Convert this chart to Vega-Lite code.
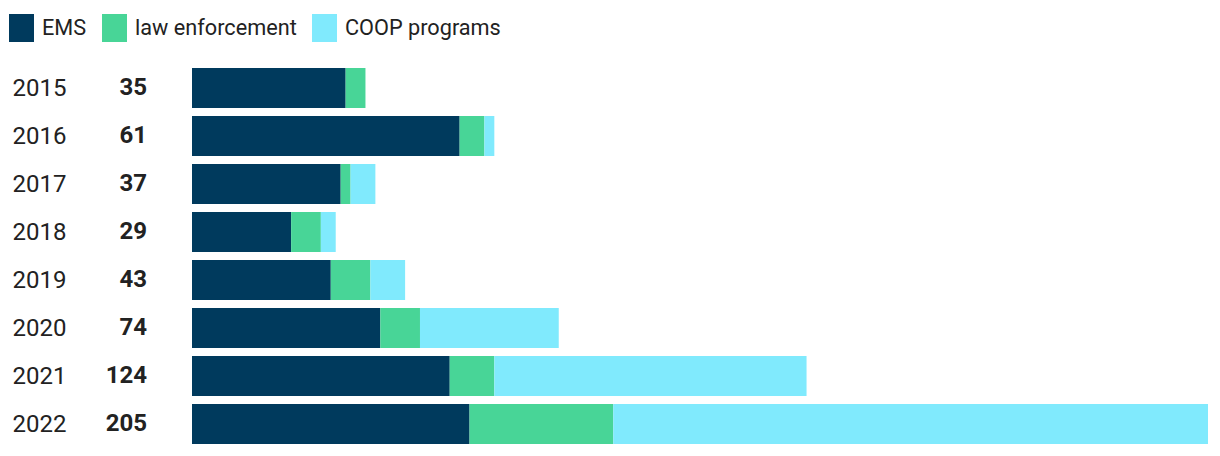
{
  "$schema": "https://vega.github.io/schema/vega-lite/v6.json",
  "autosize": {"type": "pad"},
  "bounds": "flush",
  "padding": {"left": 9, "top": 14, "right": 12, "bottom": 8},
  "spacing": 8,
  "background": "white",
  "config": {
    "view": {"stroke": null},
    "font": "Roboto",
    "text": {"font": "Roboto"}
  },
  "datasets": {
    "rows": [
      {"year": "2015", "category": "EMS", "rank": 1, "value": 31},
      {"year": "2015", "category": "law enforcement", "rank": 2, "value": 4},
      {"year": "2016", "category": "EMS", "rank": 1, "value": 54},
      {"year": "2016", "category": "law enforcement", "rank": 2, "value": 5},
      {"year": "2016", "category": "COOP programs", "rank": 3, "value": 2},
      {"year": "2017", "category": "EMS", "rank": 1, "value": 30},
      {"year": "2017", "category": "law enforcement", "rank": 2, "value": 2},
      {"year": "2017", "category": "COOP programs", "rank": 3, "value": 5},
      {"year": "2018", "category": "EMS", "rank": 1, "value": 20},
      {"year": "2018", "category": "law enforcement", "rank": 2, "value": 6},
      {"year": "2018", "category": "COOP programs", "rank": 3, "value": 3},
      {"year": "2019", "category": "EMS", "rank": 1, "value": 28},
      {"year": "2019", "category": "law enforcement", "rank": 2, "value": 8},
      {"year": "2019", "category": "COOP programs", "rank": 3, "value": 7},
      {"year": "2020", "category": "EMS", "rank": 1, "value": 38},
      {"year": "2020", "category": "law enforcement", "rank": 2, "value": 8},
      {"year": "2020", "category": "COOP programs", "rank": 3, "value": 28},
      {"year": "2021", "category": "EMS", "rank": 1, "value": 52},
      {"year": "2021", "category": "law enforcement", "rank": 2, "value": 9},
      {"year": "2021", "category": "COOP programs", "rank": 3, "value": 63},
      {"year": "2022", "category": "EMS", "rank": 1, "value": 56},
      {"year": "2022", "category": "law enforcement", "rank": 2, "value": 29},
      {"year": "2022", "category": "COOP programs", "rank": 3, "value": 120}
    ]
  },
  "hconcat": [
    {
      "width": 74,
      "height": 384,
      "data": {"name": "rows"},
      "mark": {"type": "text", "align": "right", "baseline": "middle", "fontSize": 24, "fontWeight": "bold", "color": "#222222", "font": "Roboto"},
      "encoding": {
        "y": {
          "field": "year", "type": "ordinal",
          "scale": {"paddingInner": 0.1667, "paddingOuter": 0.0833},
          "axis": {"title": null, "domain": false, "ticks": false, "labelFontSize": 24, "labelPadding": 44, "labelColor": "#222222", "labelFont": "Roboto"}
        },
        "text": {"aggregate": "sum", "field": "value", "type": "quantitative"}
      }
    },
    {
      "width": 1016,
      "height": 384,
      "data": {"name": "rows"},
      "mark": {"type": "bar"},
      "encoding": {
        "y": {
          "field": "year", "type": "ordinal",
          "scale": {"paddingInner": 0.1667, "paddingOuter": 0.0833},
          "axis": null
        },
        "x": {
          "field": "value", "type": "quantitative", "stack": "zero",
          "scale": {"domain": [0, 205], "nice": false},
          "axis": null
        },
        "order": {"field": "rank", "type": "quantitative", "sort": "ascending"},
        "color": {
          "field": "category", "type": "nominal",
          "sort": ["EMS", "law enforcement", "COOP programs"],
          "scale": {"domain": ["EMS", "law enforcement", "COOP programs"], "range": ["#003a5d", "#48d597", "#80eafd"]},
          "legend": {
            "title": null,
            "orient": "none",
            "direction": "horizontal",
            "legendX": -101,
            "legendY": -50,
            "padding": 0,
            "symbolType": "M-1,-1H0.786V1H-1Z",
            "symbolSize": 784,
            "symbolStrokeWidth": 0,
            "symbolOpacity": 1,
            "labelFontSize": 21.7,
            "labelFont": "Roboto",
            "labelColor": "#222222",
            "labelLimit": 400,
            "labelOffset": 5,
            "columnPadding": 15
          }
        }
      }
    }
  ]
}
